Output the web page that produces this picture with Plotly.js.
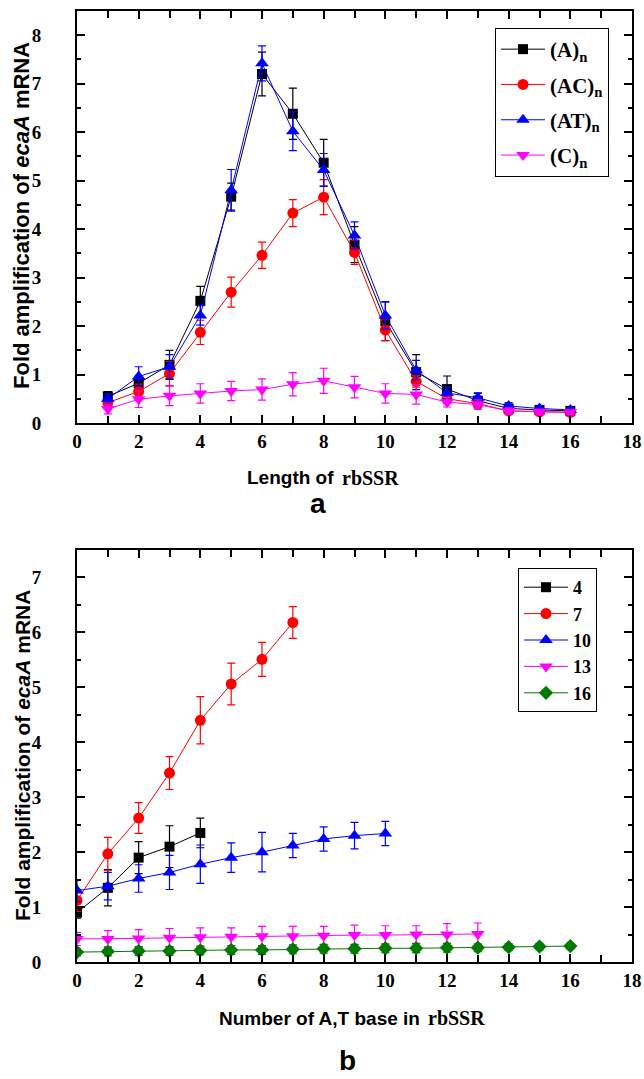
<!DOCTYPE html>
<html><head><meta charset="utf-8">
<script src="https://cdn.plot.ly/plotly-3.0.1.min.js"></script>
<style>html,body{margin:0;padding:0;background:#fff}#c{width:644px;height:1079px}</style>
</head><body><div id="c"></div>
<script>
// ---- Panel a: length of rbSSR ----
const lenX = [1,2,3,4,5,6,7,8,9,10,11,12,13,14,15,16];
const A_vals  = [0.55,0.82,1.20,2.52,4.67,7.20,6.38,5.37,3.68,2.10,1.05,0.70,0.46,0.30,0.27,0.25];
const A_err   = [0.10,0.15,0.30,0.30,0.28,0.45,0.53,0.48,0.37,0.40,0.36,0.27,0.15,0.08,0.07,0.05];
const AC_vals = [0.42,0.65,1.02,1.87,2.70,3.46,4.33,4.66,3.52,1.92,0.86,0.50,0.40,0.25,0.23,0.22];
const AC_err  = [0.08,0.15,0.25,0.25,0.31,0.27,0.28,0.36,0.25,0.22,0.12,0.10,0.08,0.06,0.05,0.04];
const AT_vals = [0.50,0.96,1.16,2.22,4.80,7.42,6.02,5.22,3.87,2.22,1.09,0.62,0.52,0.35,0.30,0.27];
const AT_err  = [0.10,0.20,0.25,0.20,0.43,0.36,0.40,0.34,0.28,0.28,0.20,0.12,0.10,0.07,0.06,0.05];
const C_vals  = [0.29,0.49,0.56,0.61,0.66,0.69,0.80,0.87,0.74,0.61,0.59,0.43,0.38,0.25,0.23,0.22];
const C_err   = [0.10,0.17,0.20,0.20,0.20,0.22,0.24,0.26,0.22,0.20,0.20,0.10,0.10,0.06,0.05,0.04];
const namesA  = ['(A)<sub>n</sub>','(AC)<sub>n</sub>','(AT)<sub>n</sub>','(C)<sub>n</sub>'];

// ---- Panel b: number of A,T bases ----
const b4_x  = [0,1,2,3,4];
const b4    = [0.90,1.35,1.90,2.10,2.35];
const b4_e  = [0.10,0.33,0.29,0.38,0.27];
const b7_x  = [0,1,2,3,4,5,6,7];
const b7    = [1.12,1.97,2.62,3.44,4.40,5.06,5.51,6.18];
const b7_e  = [0.20,0.30,0.28,0.30,0.43,0.38,0.31,0.29];
const b10_x = [0,1,2,3,4,5,6,7,8,9,10];
const b10   = [1.30,1.38,1.52,1.63,1.78,1.90,2.00,2.12,2.24,2.30,2.34];
const b10_e = [0.20,0.25,0.25,0.31,0.35,0.27,0.36,0.22,0.22,0.24,0.22];
const b13_x = [0,1,2,3,4,5,6,7,8,9,10,11,12,13];
const b13   = [0.42,0.42,0.43,0.44,0.45,0.46,0.47,0.47,0.48,0.49,0.49,0.50,0.50,0.51];
const b13_e = [0.12,0.15,0.16,0.17,0.17,0.16,0.18,0.18,0.17,0.18,0.17,0.16,0.20,0.20];
const b16_x = [0,1,2,3,4,5,6,7,8,9,10,11,12,13,14,15,16];
const b16   = [0.18,0.19,0.20,0.20,0.21,0.22,0.22,0.23,0.24,0.24,0.25,0.25,0.26,0.26,0.27,0.28,0.29];
const b16_e = [0.07,0.08,0.08,0.08,0.08,0.08,0.08,0.08,0.08,0.08,0.08,0.08,0.08,0.07,0.06,0.06,0.05];
const namesB = ['4','7','10','13','16'];

const colors = ['#000000','#ff0000','#0000ff','#ff00ff','#007a00'];
const symbols = ['square','circle','triangle-up','triangle-down','diamond'];
const sizes = [10,11,12,12,11];

function tr(x, y, e, i, name, xa, ya, leg, grp){
  return {x:x, y:y, type:'scatter', mode:'lines+markers', name:name,
    xaxis:xa, yaxis:ya, legend:leg, legendgroup:grp,
    line:{color:colors[i], width:1},
    marker:{symbol:symbols[i], size:sizes[i], color:colors[i]},
    error_y:{type:'data', array:e, visible:true, color:colors[i], thickness:1.2, width:4}};
}
// empty carriers so that the label-only overlay axes get drawn
function carrier(xa, ya){
  return {x:[null], y:[null], type:'scatter', mode:'markers', xaxis:xa, yaxis:ya,
    showlegend:false, hoverinfo:'skip'};
}

const data = [
  tr(lenX, A_vals, A_err, 0, namesA[0], 'x','y','legend','a0'),
  tr(lenX, AC_vals, AC_err, 1, namesA[1], 'x','y','legend','a1'),
  tr(lenX, AT_vals, AT_err, 2, namesA[2], 'x','y','legend','a2'),
  tr(lenX, C_vals, C_err, 3, namesA[3], 'x','y','legend','a3'),
  tr(b4_x, b4, b4_e, 0, namesB[0], 'x2','y2','legend2','b0'),
  tr(b7_x, b7, b7_e, 1, namesB[1], 'x2','y2','legend2','b1'),
  tr(b10_x, b10, b10_e, 2, namesB[2], 'x2','y2','legend2','b2'),
  tr(b13_x, b13, b13_e, 3, namesB[3], 'x2','y2','legend2','b3'),
  tr(b16_x, b16, b16_e, 4, namesB[4], 'x2','y2','legend2','b4'),
  carrier('x','y3'),
  carrier('x2','y4')
];

const sans = 'Liberation Sans';
const serif = 'Liberation Serif';
const tickFont = {family:serif, size:19, color:'#000', weight:'bold'};
const XD = [77/644, 632/644];
const D1 = [1-423/1079, 1-11/1079];
const D2 = [1-962/1079, 1-550/1079];

function xax(anchor){
  return {anchor:anchor, domain:XD, range:[0,18], dtick:2, tick0:0,
    showgrid:false, zeroline:false, showline:true, linewidth:2, linecolor:'#000',
    mirror:'ticks', ticks:'inside', ticklen:8, tickwidth:2, tickcolor:'#000',
    minor:{dtick:1, ticks:'inside', ticklen:7, tickwidth:2, tickcolor:'#000'},
    tickfont:tickFont};
}
function yax(anchor, dom, top){
  return {anchor:anchor, domain:dom, range:[0,top], dtick:1, tick0:0,
    showgrid:false, zeroline:false, showline:true, linewidth:2, linecolor:'#000',
    mirror:'ticks', ticks:'inside', ticklen:8, tickwidth:2, tickcolor:'#000',
    minor:{dtick:0.5, ticks:'inside', ticklen:4, tickwidth:2, tickcolor:'#000'},
    showticklabels:false};
}
// label-only overlay axes, to push the y tick labels away from the frame
function ylab(anchor, over, dom, top){
  return {anchor:anchor, overlaying:over, domain:dom, range:[0,top], dtick:1, tick0:0,
    showgrid:false, zeroline:false, showline:false, ticks:'outside', ticklen:31,
    tickcolor:'rgba(0,0,0,0)', tickfont:tickFont, side:'left'};
}

const layout = {
  width:644, height:1079, margin:{l:0,r:0,t:0,b:0},
  paper_bgcolor:'#fff', plot_bgcolor:'rgba(0,0,0,0)', showlegend:true,
  xaxis: xax('y'),
  yaxis: yax('x', D1, 8.5),
  xaxis2: xax('y2'),
  yaxis2: yax('x2', D2, 7.5),
  yaxis3: ylab('x', 'y', D1, 8.5),
  yaxis4: ylab('x2', 'y2', D2, 7.5),
  legend:{x:495/644, y:1-28/1079, xanchor:'left', yanchor:'top', bgcolor:'#fff',
    bordercolor:'#000', borderwidth:1, font:{family:serif, size:21, color:'#000', weight:'bold'},
    itemwidth:44, tracegroupgap:5},
  legend2:{x:518/644, y:1-568/1079, xanchor:'left', yanchor:'top', bgcolor:'#fff',
    bordercolor:'#000', borderwidth:1, font:{family:serif, size:18, color:'#000', weight:'bold'},
    itemwidth:44, tracegroupgap:0},
  annotations:[
    {xref:'paper', yref:'paper', x:22/644, y:1-216/1079, xanchor:'center', yanchor:'middle', textangle:-90, showarrow:false,
     text:'Fold amplification of <i>ecaA</i> mRNA', font:{family:sans, size:22, weight:'bold', color:'#000'}},
    {xref:'paper', yref:'paper', x:22/644, y:1-756/1079, xanchor:'center', yanchor:'middle', textangle:-90, showarrow:false,
     text:'Fold amplification of <i>ecaA</i> mRNA', font:{family:sans, size:21, weight:'bold', color:'#000'}},
    {xref:'paper', yref:'paper', x:336/644, y:1-478/1079, xanchor:'right', yanchor:'middle', showarrow:false,
     text:'Length of', font:{family:sans, size:19, weight:'bold', color:'#000'}},
    {xref:'paper', yref:'paper', x:340/644, y:1-478/1079, xanchor:'left', yanchor:'middle', showarrow:false,
     text:'rbSSR', font:{family:serif, size:20, weight:'bold', color:'#000'}},
    {xref:'paper', yref:'paper', x:318/644, y:1-503/1079, xanchor:'center', yanchor:'middle', showarrow:false,
     text:'a', font:{family:sans, size:28, weight:'bold', color:'#000'}},
    {xref:'paper', yref:'paper', x:422/644, y:1-1018/1079, xanchor:'right', yanchor:'middle', showarrow:false,
     text:'Number of A,T base in', font:{family:sans, size:19, weight:'bold', color:'#000'}},
    {xref:'paper', yref:'paper', x:426/644, y:1-1018/1079, xanchor:'left', yanchor:'middle', showarrow:false,
     text:'rbSSR', font:{family:serif, size:20, weight:'bold', color:'#000'}},
    {xref:'paper', yref:'paper', x:347/644, y:1-1060/1079, xanchor:'center', yanchor:'middle', showarrow:false,
     text:'b', font:{family:sans, size:28, weight:'bold', color:'#000'}}
  ]
};
Plotly.newPlot('c', data, layout, {displayModeBar:false, staticPlot:true});
</script></body></html>
